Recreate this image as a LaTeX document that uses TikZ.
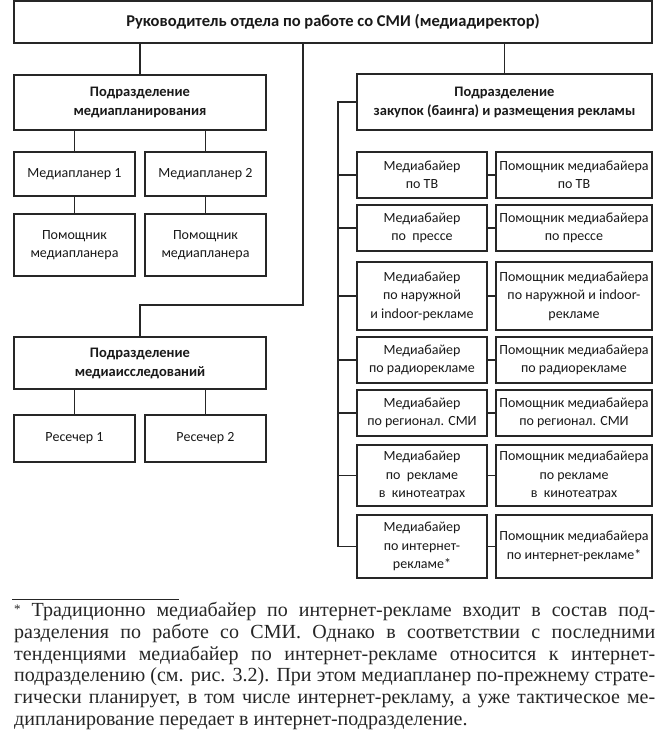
\documentclass[tikz,border=0pt]{standalone}
\usepackage{fontspec}
\setmainfont{Carlito}
\newfontfamily\notefont{Liberation Serif}
\begin{document}
\begin{tikzpicture}[x=1pt,y=-1pt,
  box/.style={draw=black!85, line width=1.2pt, fill=white, inner sep=0pt, align=center, text=black!90,
    font=\fontsize{14}{18.5}\selectfont},
  hbox/.style={box, font=\bfseries\fontsize{14.5}{19}\selectfont},
  conn/.style={draw=black!85, line width=1.2pt}]
\fill[white] (0,0) rectangle (668,733);
\useasboundingbox (0,0) rectangle (668,733);
% top
\node[hbox, font=\bfseries\fontsize{16.5}{20}\selectfont, minimum width=638pt, minimum height=42pt] (top) at (333,22) {Руководитель отдела по работе со СМИ (медиадиректор)};
% media planning
\node[hbox, minimum width=252pt, minimum height=55pt] (mp) at (140,102.5) {Подразделение\\медиапланирования};
\node[box, minimum width=121pt, minimum height=44pt] (mp1) at (74.5,174) {Медиапланер 1};
\node[box, minimum width=121pt, minimum height=44pt] (mp2) at (205.5,174) {Медиапланер 2};
\node[box, minimum width=121pt, minimum height=62pt] (a1) at (74.5,245) {Помощник\\медиапланера};
\node[box, minimum width=121pt, minimum height=62pt] (a2) at (205.5,245) {Помощник\\медиапланера};
% media research
\node[hbox, minimum width=252pt, minimum height=52pt] (mr) at (140,363) {Подразделение\\медиаисследований};
\node[box, minimum width=121pt, minimum height=47pt] (r1) at (74.5,438.5) {Ресечер 1};
\node[box, minimum width=121pt, minimum height=47pt] (r2) at (205.5,438.5) {Ресечер 2};
% buying
\node[hbox, minimum width=295pt, minimum height=56pt] (buy) at (504.5,102) {Подразделение\\закупок (баинга) и размещения рекламы};
\node[box, minimum width=130pt, minimum height=46pt] (b1) at (422,175) {Медиабайер\\по ТВ};
\node[box, minimum width=156pt, minimum height=46pt] (s1) at (574,175) {Помощник медиабайера\\по ТВ};
\node[box, minimum width=130pt, minimum height=46pt] (b2) at (422,228) {Медиабайер\\по\ \ прессе};
\node[box, minimum width=156pt, minimum height=46pt] (s2) at (574,228) {Помощник медиабайера\\по прессе};
\node[box, minimum width=130pt, minimum height=68pt] (b3) at (422,296) {Медиабайер\\по наружной\\и indoor-рекламе};
\node[box, minimum width=156pt, minimum height=68pt] (s3) at (574,296) {Помощник медиабайера\\по наружной и indoor-\\рекламе};
\node[box, minimum width=130pt, minimum height=46pt] (b4) at (422,360) {Медиабайер\\по радиорекламе};
\node[box, minimum width=156pt, minimum height=46pt] (s4) at (574,360) {Помощник медиабайера\\по радиорекламе};
\node[box, minimum width=130pt, minimum height=46pt] (b5) at (422,413) {Медиабайер\\по регионал. СМИ};
\node[box, minimum width=156pt, minimum height=46pt] (s5) at (574,413) {Помощник медиабайера\\по регионал. СМИ};
\node[box, minimum width=130pt, minimum height=61pt] (b6) at (422,475.5) {Медиабайер\\по\ \ рекламе\\в\ \ кинотеатрах};
\node[box, minimum width=156pt, minimum height=61pt] (s6) at (574,475.5) {Помощник медиабайера\\по рекламе\\в\ \ кинотеатрах};
\node[box, minimum width=130pt, minimum height=63pt] (b7) at (422,546.5) {Медиабайер\\по интернет-\\рекламе*};
\node[box, minimum width=156pt, minimum height=63pt] (s7) at (574,546.5) {Помощник медиабайера\\по интернет-рекламе*};
% connectors left
\draw[conn] (mp.north) -- (mp.north |- top.south);
\draw[conn] (buy.north) -- (buy.north |- top.south);
\coordinate (k) at (303,305);
\draw[conn] (k |- top.south) -- (k) -| (mr.north);
\foreach \p/\c in {mp/mp1, mp/mp2, mp1/a1, mp2/a2, mr/r1, mr/r2}
  \draw[conn] (\c.north) -- (\c.north |- \p.south);
% bus right
\coordinate (bus) at (338,0);
\draw[conn] (buy.west) -- (buy.west -| bus) -- (bus |- b7.west);
\foreach \i in {1,...,7} {
  \draw[conn] (bus |- b\i.west) -- (b\i.west);
  \draw[conn] (b\i.east) -- (s\i.west);
}
% footnote
\coordinate (fl) at (12,599);
\coordinate (fr) at (179,599);
\draw[draw=black!85, line width=0.9pt] (fl) -- (fr);
\node[anchor=north west, inner sep=0pt, text=black!85, font=\notefont\fontsize{20}{21.8}\selectfont] (note) at (14,602) {%
\parbox{641pt}{%
\makebox[641pt][s]{\raisebox{3pt}{\fontsize{13}{13}\selectfont*} Традиционно медиабайер по интернет-рекламе входит в состав под-}\\
\makebox[641pt][s]{разделения по работе со СМИ. Однако в соответствии с последними}\\
\makebox[641pt][s]{тенденциями медиабайер по интернет-рекламе относится к интернет-}\\
\makebox[641pt][s]{подразделению (см. рис. 3.2). При этом медиапланер по-прежнему страте-}\\
\makebox[641pt][s]{гически планирует, в том числе интернет-рекламу, а уже тактическое ме-}\\
дипланирование передает в интернет-подразделение.}};
\end{tikzpicture}
\end{document}
